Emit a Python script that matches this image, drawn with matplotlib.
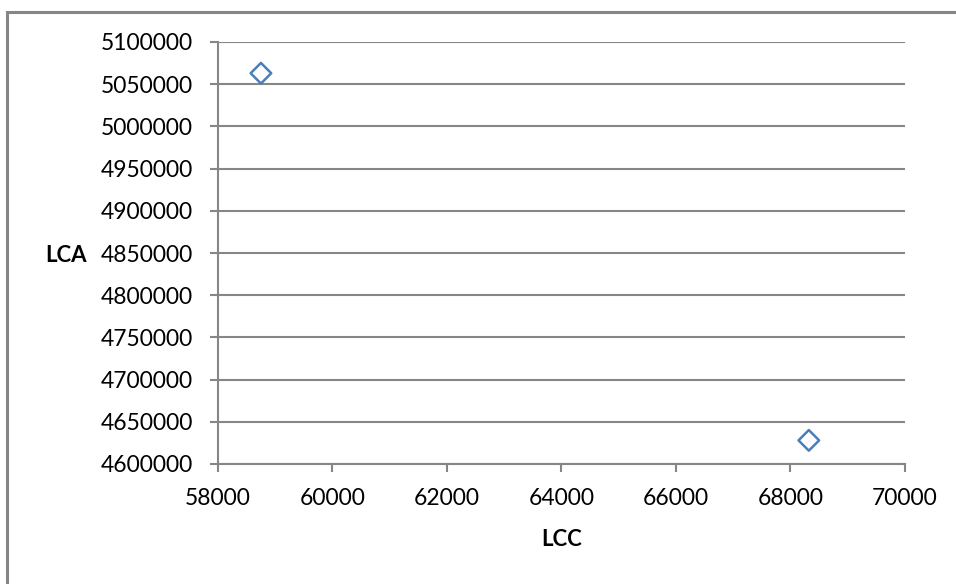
import matplotlib
matplotlib.use("Agg")
import matplotlib.pyplot as plt
from matplotlib.patches import Rectangle

lcc = [58750, 68320]
lca = [5063000, 4628000]
x_ticks = [58000, 60000, 62000, 64000, 66000, 68000, 70000]
y_ticks = [4600000, 4650000, 4700000, 4750000, 4800000, 4850000, 4900000,
           4950000, 5000000, 5050000, 5100000]

plt.rcParams['font.family'] = ['Lato', 'DejaVu Sans']
W, H = 956, 584
fig = plt.figure(figsize=(W / 100, H / 100), dpi=100)
ax = fig.add_axes([218 / W, 1 - 464 / H, (905 - 218) / W, (464 - 42) / H])

# outer chart border (only top and left edges visible in frame)
fig.patches.append(Rectangle((7 / W, -0.05), 1.2, 1 - 11.5 / H + 0.05,
                             transform=fig.transFigure, fill=False,
                             edgecolor='#868686', linewidth=2.2, zorder=0))

ax.scatter(lcc, lca, marker='D', s=110, facecolors='none',
           edgecolors='#4a7ebb', linewidths=1.8, zorder=3, clip_on=False)

ax.set_xlim(x_ticks[0], x_ticks[-1])
ax.set_ylim(y_ticks[0], y_ticks[-1])
ax.set_xticks(x_ticks)
ax.set_yticks(y_ticks)
ax.set_xticklabels([str(v) for v in x_ticks])
ax.set_yticklabels([str(v) for v in y_ticks])
ax.grid(axis='y', color='#868686', linewidth=1.5)
ax.set_axisbelow(True)
for s in ['top', 'right']:
    ax.spines[s].set_visible(False)
for s in ['left', 'bottom']:
    ax.spines[s].set_color('#868686')
    ax.spines[s].set_linewidth(1.5)
ax.tick_params(axis='both', colors='#868686', width=1.5, length=6,
               labelsize=16.5, labelcolor='black', direction='out')
ax.tick_params(axis='y', pad=12)
ax.tick_params(axis='x', pad=11)

fig.text(66 / W, 1 - 255 / H, 'LCA', ha='center', va='center',
         fontsize=16, fontweight='bold')
fig.text(562 / W, 1 - 539 / H, 'LCC', ha='center', va='center',
         fontsize=16, fontweight='bold')

fig.savefig('out.png', dpi=100)
